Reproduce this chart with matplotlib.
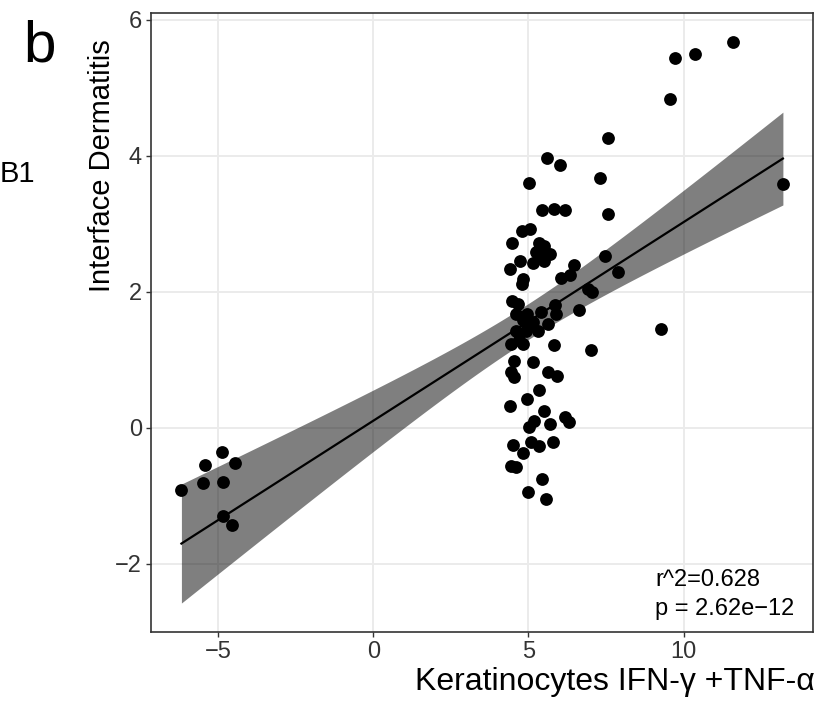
import numpy as np
import matplotlib
matplotlib.use("Agg")
import matplotlib.pyplot as plt

# ---- data ----
x_vals = [
    -6.18, -5.42, -4.88, -4.45, -5.47, -4.85, -4.83, -4.54,
    11.59, 10.36, 9.73, 9.56, 7.58, 7.30, 13.20,
    6.18, 7.58, 7.47, 6.46, 6.34, 6.05, 7.90, 6.91, 7.05, 6.62, 9.27, 7.02,
    5.61, 6.03, 5.03, 5.44, 5.81, 4.79, 5.06, 4.46, 5.33, 5.49, 5.25, 5.68,
    5.41, 4.74, 5.14, 5.51, 4.42, 4.82, 4.79, 4.48, 4.66, 4.60, 4.95, 5.39,
    5.87, 5.89, 4.82, 5.14, 5.62, 4.60, 4.93, 5.30, 5.00, 4.70,
    4.44, 4.82, 5.84, 4.55, 5.14, 4.44, 4.52, 5.62, 5.91, 5.33, 4.95, 4.41,
    5.51, 6.19, 6.30, 5.17, 5.01, 5.68, 4.50, 5.09, 5.33, 5.80, 4.83, 4.44,
    4.60, 5.44, 5.00, 5.57,
]
y_vals = [
    -0.91, -0.54, -0.35, -0.52, -0.81, -0.80, -1.30, -1.43,
    5.67, 5.49, 5.44, 4.84, 4.26, 3.67, 3.58,
    3.20, 3.15, 2.53, 2.40, 2.25, 2.20, 2.29, 2.04, 2.00, 1.74, 1.46, 1.14,
    3.97, 3.86, 3.60, 3.20, 3.22, 2.90, 2.93, 2.72, 2.72, 2.68, 2.58, 2.56,
    2.53, 2.46, 2.43, 2.45, 2.34, 2.19, 2.12, 1.86, 1.82, 1.68, 1.68, 1.70,
    1.80, 1.68, 1.58, 1.56, 1.53, 1.43, 1.43, 1.42, 1.50, 1.30,
    1.24, 1.24, 1.22, 0.99, 0.97, 0.82, 0.75, 0.82, 0.77, 0.56, 0.42, 0.32,
    0.25, 0.16, 0.08, 0.10, 0.01, 0.06, -0.25, -0.21, -0.27, -0.20, -0.37, -0.56,
    -0.58, -0.75, -0.94, -1.04,
]
x_ticks = [-5, 0, 5, 10]
y_ticks = [-2, 0, 2, 4, 6]
x_label = "Keratinocytes IFN-\u03b3 +TNF-\u03b1"
y_label = "Interface Dermatitis"
stat_lines = ["r^2=0.628", "p = 2.62e\u221212"]

plt.rcParams['font.family'] = ['Liberation Sans', 'DejaVu Sans']

x = np.array(x_vals)
y = np.array(y_vals)
n = len(x)
slope, intercept = np.polyfit(x, y, 1)
resid = y - (slope * x + intercept)
s = np.sqrt(np.sum(resid ** 2) / (n - 2))
xbar = x.mean()
sxx = np.sum((x - xbar) ** 2)
t_crit = 1.987
xs = np.linspace(x.min(), x.max(), 200)
ys = slope * xs + intercept
hw = t_crit * s * np.sqrt(1.0 / n + (xs - xbar) ** 2 / sxx)

W, H = 823, 703
fig = plt.figure(figsize=(W / 100, H / 100), dpi=100)
ax = fig.add_axes([151 / W, 1 - 632 / H, (813 - 151) / W, (632 - 13) / H])

ax.set_xlim(-7.16, 14.17)
ax.set_ylim(-3.0, 6.1)
ax.set_xticks(x_ticks)
ax.set_yticks(y_ticks)
ax.grid(True, color='#ebebeb', lw=1.4, zorder=0)
ax.set_axisbelow(True)

ax.fill_between(xs, ys - hw, ys + hw, color='black', alpha=0.5, lw=0, zorder=2)
ax.plot(xs, ys, color='black', lw=1.6, zorder=3)
ax.scatter(x, y, s=85, color='black', lw=0, zorder=4)

for sp in ax.spines.values():
    sp.set_color('#333333')
    sp.set_linewidth(1.2)
ax.tick_params(direction='out', length=3.5, width=1.0, color='#333333',
               labelsize=17, labelcolor='#333333', pad=3)

ax.text((655 - 151) / 662, (632 - 586) / 619, stat_lines[0], transform=ax.transAxes,
        fontsize=17, ha='left', va='baseline', color='black')
ax.text((655 - 151) / 662, (632 - 615) / 619, stat_lines[1], transform=ax.transAxes,
        fontsize=17, ha='left', va='baseline', color='black')

fig.text(815 / W, 1 - 690 / H, x_label, fontsize=23, ha='right', va='baseline')
fig.text(116 / W, 1 - 166 / H, y_label, fontsize=21, rotation=90, ha='right', va='center')
fig.text(23 / W, 1 - 62 / H, "b", fontsize=42, ha='left', va='baseline')
fig.text(0 / W, 1 - 182 / H, "B1", fontsize=21, ha='left', va='baseline')

fig.savefig("out.png", dpi=100)
